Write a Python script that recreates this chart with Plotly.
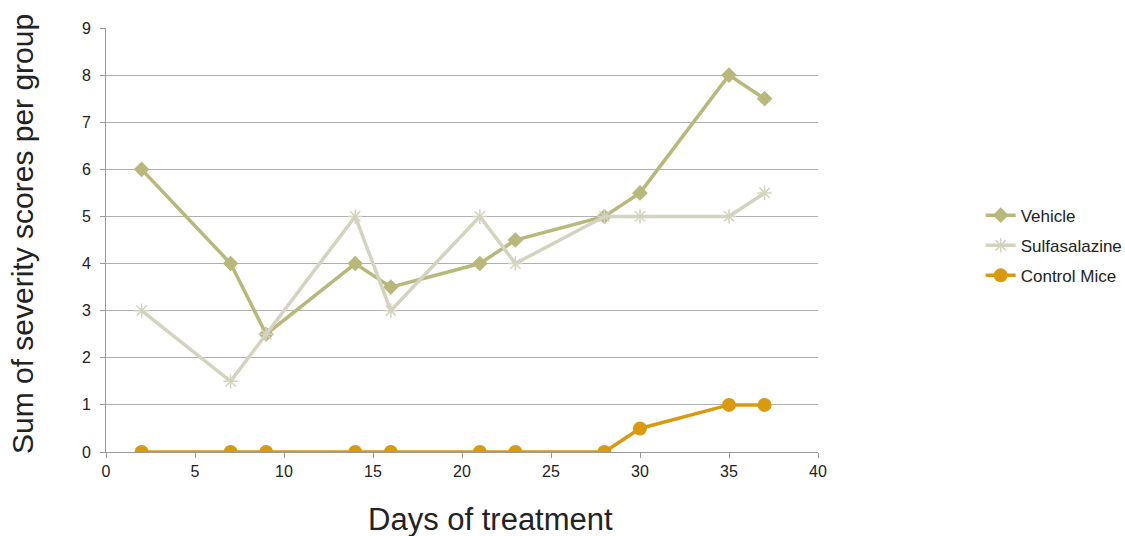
import plotly.graph_objects as go

days = [2, 7, 9, 14, 16, 21, 23, 28, 30, 35, 37]
vehicle = [6, 4, 2.5, 4, 3.5, 4, 4.5, 5, 5.5, 8, 7.5]
sulfasalazine = [3, 1.5, 2.5, 5, 3, 5, 4, 5, 5, 5, 5.5]
control = [0, 0, 0, 0, 0, 0, 0, 0, 0.5, 1, 1]

fig = go.Figure()
fig.add_trace(go.Scatter(x=days, y=vehicle, name="Vehicle", mode="lines+markers",
                         legendgroup="a",
                         line=dict(color="#B8B87A", width=3.5),
                         marker=dict(symbol="diamond", size=12, color="#B8B87A")))
fig.add_trace(go.Scatter(x=days, y=sulfasalazine, name="Sulfasalazine", mode="lines+markers",
                         legendgroup="b",
                         line=dict(color="#D3D3BF", width=3.5),
                         marker=dict(symbol="asterisk", size=12, color="#D3D3BF",
                                     line=dict(color="#D3D3BF", width=1.5))))
fig.add_trace(go.Scatter(x=days, y=control, name="Control Mice", mode="lines+markers",
                         legendgroup="c",
                         line=dict(color="#D99A10", width=3.5),
                         marker=dict(symbol="circle", size=14, color="#D99A10")))

fig.update_layout(
    width=1125, height=536,
    margin=dict(l=106, r=307, t=28, b=84, autoexpand=False),
    paper_bgcolor="white", plot_bgcolor="white",
    font=dict(family="Liberation Sans, Arial, sans-serif", color="#222"),
    legend=dict(x=1.2285, y=0.6, xanchor="left", yanchor="top",
                font=dict(size=17, color="#222"), tracegroupgap=5,
                borderwidth=0),
    xaxis=dict(range=[0, 40], tickvals=[0, 5, 10, 15, 20, 25, 30, 35, 40],
               showgrid=False, showline=True, linecolor="#999", linewidth=1,
               ticks="outside", ticklen=5, tickcolor="#999",
               tickfont=dict(size=16), zeroline=False, automargin=False),
    yaxis=dict(range=[0, 9], tickvals=list(range(10)),
               showgrid=True, gridcolor="#B0B0B0", gridwidth=1,
               showline=True, linecolor="#999", linewidth=1,
               ticks="outside", ticklen=5, tickcolor="#999", ticklabelstandoff=6,
               tickfont=dict(size=16), zeroline=False, automargin=False),
    annotations=[
        dict(text="Days of treatment", xref="paper", yref="paper",
             x=0.5407, y=-0.160, xanchor="center", yanchor="middle",
             showarrow=False, font=dict(size=31, color="#222")),
        dict(text="Sum of severity scores per group", xref="paper", yref="paper",
             x=-0.1180, y=0.514, xanchor="center", yanchor="middle", textangle=-90,
             showarrow=False, font=dict(size=30, color="#222")),
    ],
)

fig.write_html("out.html", config={"displayModeBar": False},
               post_script="document.body.style.margin='0';document.body.style.overflow='hidden';")
